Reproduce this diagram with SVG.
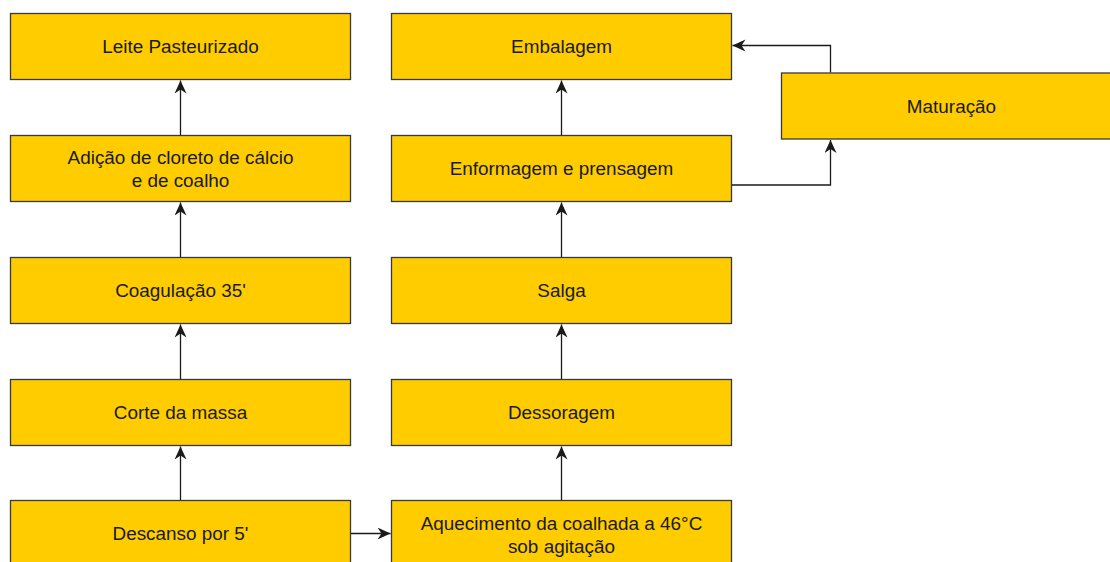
<svg xmlns="http://www.w3.org/2000/svg" width="1110" height="562" viewBox="0 0 1110 562">
<style>
.box{fill:#ffcc00;stroke:#36393d;stroke-width:1.3}
.t{font-family:"Liberation Sans",Arial,sans-serif;font-size:18.9px;fill:#1a1a1a;text-anchor:middle;dominant-baseline:central}
.c{fill:none;stroke:#1a1a1a;stroke-width:1.3}
</style>
<defs>
<marker id="ah" markerUnits="userSpaceOnUse" markerWidth="16" markerHeight="14" refX="13" refY="6" orient="auto">
<path d="M0,0 L13,6 L0,12 L4,6 Z" fill="#1a1a1a"/>
</marker>
</defs>
<rect width="1110" height="562" fill="#ffffff"/>
<g id="connectors">
<line class="c" x1="180.5" y1="135.5" x2="180.5" y2="80.5" marker-end="url(#ah)"/>
<line class="c" x1="180.5" y1="257" x2="180.5" y2="202.5" marker-end="url(#ah)"/>
<line class="c" x1="180.5" y1="379" x2="180.5" y2="324.5" marker-end="url(#ah)"/>
<line class="c" x1="180.5" y1="500" x2="180.5" y2="446.5" marker-end="url(#ah)"/>
<line class="c" x1="350.5" y1="533.5" x2="390.5" y2="533.5" marker-end="url(#ah)"/>
<line class="c" x1="561.5" y1="500" x2="561.5" y2="446.5" marker-end="url(#ah)"/>
<line class="c" x1="561.5" y1="379" x2="561.5" y2="324.5" marker-end="url(#ah)"/>
<line class="c" x1="561.5" y1="257" x2="561.5" y2="202.5" marker-end="url(#ah)"/>
<line class="c" x1="561.5" y1="135.5" x2="561.5" y2="80.5" marker-end="url(#ah)"/>
<polyline class="c" points="731.5,185 830.5,185 830.5,140" marker-end="url(#ah)"/>
<polyline class="c" points="830.5,72.5 830.5,45.5 732.5,45.5" marker-end="url(#ah)"/>
</g>
<g id="n1"><rect class="box" x="10.5" y="13.5" width="340" height="66"/><text class="t" x="180.5" y="46.5">Leite Pasteurizado</text></g>
<g id="n2"><rect class="box" x="10.5" y="135.5" width="340" height="66"/><text class="t" x="180.5" y="157.5">Adição de cloreto de cálcio</text><text class="t" x="180.5" y="180">e de coalho</text></g>
<g id="n3"><rect class="box" x="10.5" y="257.5" width="340" height="66"/><text class="t" x="180.5" y="290.5">Coagulação 35'</text></g>
<g id="n4"><rect class="box" x="10.5" y="379.5" width="340" height="66"/><text class="t" x="180.5" y="412.5">Corte da massa</text></g>
<g id="n5"><rect class="box" x="10.5" y="500.5" width="340" height="66"/><text class="t" x="180.5" y="533.5">Descanso por 5'</text></g>
<g id="n6"><rect class="box" x="391.5" y="500.5" width="340" height="66"/><text class="t" x="561.5" y="523">Aquecimento da coalhada a 46°C</text><text class="t" x="561.5" y="546">sob agitação</text></g>
<g id="n7"><rect class="box" x="391.5" y="379.5" width="340" height="66"/><text class="t" x="561.5" y="412.5">Dessoragem</text></g>
<g id="n8"><rect class="box" x="391.5" y="257.5" width="340" height="66"/><text class="t" x="561.5" y="290.5">Salga</text></g>
<g id="n9"><rect class="box" x="391.5" y="135.5" width="340" height="66"/><text class="t" x="561.5" y="168.5">Enformagem e prensagem</text></g>
<g id="n10"><rect class="box" x="391.5" y="13.5" width="340" height="66"/><text class="t" x="561.5" y="46.5">Embalagem</text></g>
<g id="n11"><rect class="box" x="781.5" y="73" width="340" height="66"/><text class="t" x="951.5" y="106">Maturação</text></g>
</svg>
